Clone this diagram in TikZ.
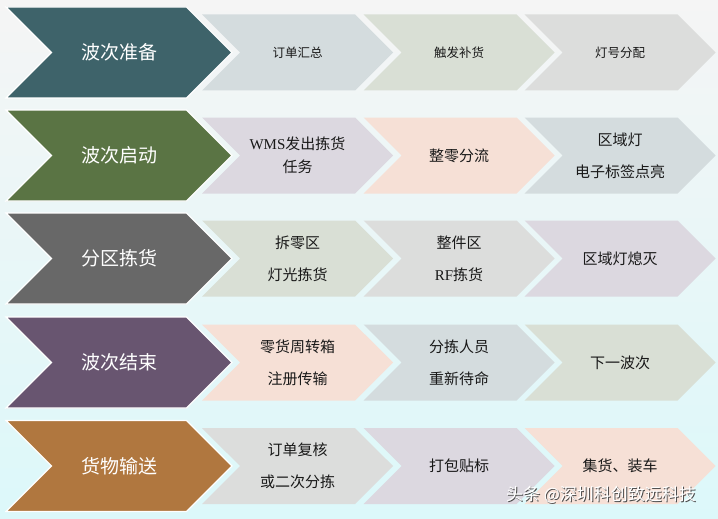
\documentclass[tikz,border=0pt]{standalone}
\usepackage{fontspec}
\newfontfamily\cjk{Noto Sans CJK SC}
\newfontfamily\latin{Liberation Serif}
\usetikzlibrary{shapes.symbols}
\definecolor{bgtop}{HTML}{F5F5F5}
\definecolor{bgmid}{HTML}{EDF3F4}
\definecolor{bgbot}{HTML}{DCF8FA}
\definecolor{teal}{HTML}{3E636A}
\definecolor{olive}{HTML}{5A7444}
\definecolor{slate}{HTML}{686868}
\definecolor{plum}{HTML}{685570}
\definecolor{ochre}{HTML}{B0773F}
\definecolor{tblue}{HTML}{D4DCDE}
\definecolor{tgreen}{HTML}{D9DFD5}
\definecolor{tgray}{HTML}{DCDDDC}
\definecolor{tlilac}{HTML}{DCD8E0}
\definecolor{tpeach}{HTML}{F6E0D6}
\tikzset{
  chevron/.style={signal, signal from=west, signal to=east, signal pointer angle=90, inner sep=0pt},
  phase/.style={chevron, minimum width=226, minimum height=91, draw=white, line width=1.2pt,
    text=white, font=\cjk\fontsize{19}{22}\selectfont},
  task/.style={chevron, minimum width=191, minimum height=76, align=center, text=black!90,
    font=\cjk\fontsize{15}{32}\selectfont},
  small/.style={font=\cjk\fontsize{12.5}{16}\selectfont}
}
\begin{document}
\begin{tikzpicture}[x=1pt, y=-1pt]
\shade[top color=bgtop, middle color=bgmid, bottom color=bgbot] (0,0) rectangle (718,519);
% wave 1
\node[task, small, fill=tblue]  (r1a) at (297.5,52.5) {订单汇总};
\node[task, small, fill=tgreen] (r1b) at (459,52.5)   {触发补货};
\node[task, small, fill=tgray]  (r1c) at (620,52.5)   {灯号分配};
\node[phase, fill=teal]  (r1) at (119,52.5) {波次准备};
% wave 2
\node[task, fill=tlilac, font=\cjk\fontsize{15}{23}\selectfont] (r2a) at (297.5,155.5) {{\latin WMS}发出拣货\\任务};
\node[task, fill=tpeach] (r2b) at (459,155.5) {整零分流};
\node[task, fill=tblue]  (r2c) at (620,155.5) {区域灯\\电子标签点亮};
\node[phase, fill=olive] (r2) at (119,155.5) {波次启动};
% picking
\node[task, fill=tgreen] (r3a) at (297.5,258.5) {拆零区\\灯光拣货};
\node[task, fill=tgray]  (r3b) at (459,258.5)   {整件区\\{\latin RF}拣货};
\node[task, fill=tlilac] (r3c) at (620,258.5)   {区域灯熄灭};
\node[phase, fill=slate] (r3) at (119,258.5) {分区拣货};
% wave end
\node[task, fill=tpeach] (r4a) at (297.5,362.5) {零货周转箱\\注册传输};
\node[task, fill=tblue]  (r4b) at (459,362.5)   {分拣人员\\重新待命};
\node[task, fill=tgreen] (r4c) at (620,362.5)   {下一波次};
\node[phase, fill=plum]  (r4) at (119,362.5) {波次结束};
% shipping
\node[task, fill=tgray]  (r5a) at (297.5,466) {订单复核\\或二次分拣};
\node[task, fill=tlilac] (r5b) at (459,466)   {打包贴标};
\node[task, fill=tpeach] (r5c) at (620,466)   {集货、装车};
\node[phase, fill=ochre] (r5) at (119,466) {货物输送};
% watermark
\node[text=black!70, font=\cjk\fontsize{17}{20}\selectfont] (mark') at (602,496) {头条 @深圳科创致远科技};
\node[text=white, font=\cjk\fontsize{17}{20}\selectfont] (mark) at (601,495) {头条 @深圳科创致远科技};
\end{tikzpicture}
\end{document}
